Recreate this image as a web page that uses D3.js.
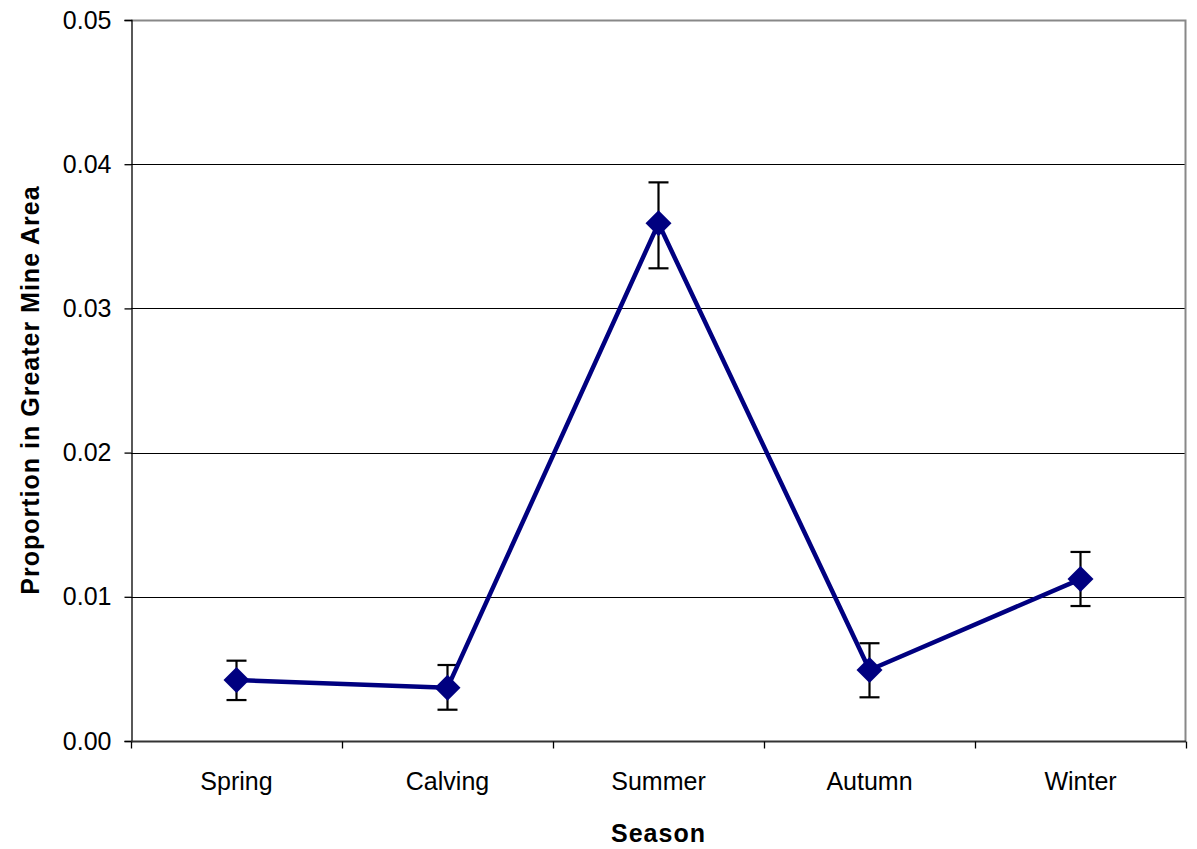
<!DOCTYPE html>
<html>
<head>
<meta charset="utf-8">
<script src="https://cdn.jsdelivr.net/npm/d3@7"></script>
<style>
  html, body { margin: 0; padding: 0; background: #fff; }
  svg { display: block; font-family: "Liberation Sans", Arial, sans-serif; }
</style>
</head>
<body>
<svg id="chart" width="1197" height="849"></svg>
<script>
// Seasonal proportion of locations in the greater mine area, with error bars
const seasons = ["Spring", "Calving", "Summer", "Autumn", "Winter"];
const proportion = [0.00423, 0.00370, 0.03590, 0.00492, 0.01123];
const upperBound = [0.00557, 0.00527, 0.03874, 0.00678, 0.01311];
const lowerBound = [0.00284, 0.00217, 0.03278, 0.00303, 0.00936];
const yTicks = [0, 0.01, 0.02, 0.03, 0.04, 0.05];

const svg = d3.select("#chart");
const margin = { left: 131, right: 11, top: 20, bottom: 108 };
const W = 1197, H = 849;
const x0 = margin.left, x1 = W - margin.right;
const y0 = H - margin.bottom, y1 = margin.top;

const x = d3.scaleBand().domain(seasons).range([x0, x1]).padding(0);
const y = d3.scaleLinear().domain([0, 0.05]).range([y0, y1]);
const cx = d => x(d) + x.bandwidth() / 2;

// horizontal gridlines
svg.append("g")
  .selectAll("line")
  .data(yTicks.filter(t => t > 0 && t < 0.05))
  .join("line")
  .attr("x1", x0).attr("x2", x1)
  .attr("y1", d => Math.round(y(d)) + 0.5).attr("y2", d => Math.round(y(d)) + 0.5)
  .attr("stroke", "#000").attr("stroke-width", 1);

// plot area border (top and right)
svg.append("path")
  .attr("d", `M${x0},${Math.round(y1) + 0.5}H${x1 - 0.5}V${y0}`)
  .attr("fill", "none").attr("stroke", "#888").attr("stroke-width", 2);

// y axis
const yAxis = d3.axisLeft(y).tickValues(yTicks).tickFormat(d3.format(".2f")).tickSize(7).tickPadding(13);
const gy = svg.append("g").attr("transform", `translate(${x0 + 0.5},0)`).call(yAxis);
gy.select(".domain").attr("stroke", "#000").attr("stroke-width", 1.3);
gy.selectAll(".tick line").attr("stroke", "#000").attr("stroke-width", 1.3);
gy.selectAll("text").attr("font-size", 25).attr("fill", "#000")
  .attr("font-family", "Liberation Sans, Arial, sans-serif");

// x axis with ticks at category boundaries
const gx = svg.append("g").attr("transform", `translate(0,${y0 + 0.5})`);
gx.append("line").attr("x1", x0).attr("x2", x1).attr("stroke", "#333").attr("stroke-width", 2);
const bounds = seasons.map(s => x(s)).concat([x1]);
gx.selectAll("line.tk").data(bounds).join("line").attr("class", "tk")
  .attr("x1", d => Math.round(d) + 0.5).attr("x2", d => Math.round(d) + 0.5)
  .attr("y1", 0).attr("y2", 7).attr("stroke", "#000").attr("stroke-width", 1.3);
gx.selectAll("text").data(seasons).join("text")
  .attr("x", d => cx(d)).attr("y", 48)
  .attr("text-anchor", "middle").attr("font-size", 25).attr("fill", "#000")
  .text(d => d);

// axis titles
svg.append("text").attr("x", (x0 + x1) / 2).attr("y", 842)
  .attr("text-anchor", "middle").attr("font-size", 25).attr("font-weight", "bold")
  .attr("letter-spacing", 1)
  .text("Season");
svg.append("text")
  .attr("transform", `translate(39,390) rotate(-90)`)
  .attr("text-anchor", "middle").attr("font-size", 25).attr("font-weight", "bold")
  .attr("letter-spacing", 1)
  .text("Proportion in Greater Mine Area");

// error bars
const eb = svg.append("g").attr("stroke", "#000").attr("stroke-width", 2.2);
seasons.forEach((s, i) => {
  const px = cx(s);
  eb.append("line").attr("x1", px).attr("x2", px).attr("y1", y(upperBound[i])).attr("y2", y(lowerBound[i]));
  eb.append("line").attr("x1", px - 10).attr("x2", px + 10).attr("y1", y(upperBound[i])).attr("y2", y(upperBound[i]));
  eb.append("line").attr("x1", px - 10).attr("x2", px + 10).attr("y1", y(lowerBound[i])).attr("y2", y(lowerBound[i]));
});

// series line
const line = d3.line().x((d, i) => cx(seasons[i])).y(d => y(d));
svg.append("path").datum(proportion)
  .attr("d", line).attr("fill", "none")
  .attr("stroke", "#000080").attr("stroke-width", 4.5).attr("stroke-linejoin", "round");

// diamond markers
const diamond = d3.symbol().type(d3.symbolDiamond2).size(430);
svg.append("g").selectAll("path").data(proportion).join("path")
  .attr("transform", (d, i) => `translate(${cx(seasons[i])},${y(d)})`)
  .attr("d", diamond).attr("fill", "#000080");
</script>
</body>
</html>
